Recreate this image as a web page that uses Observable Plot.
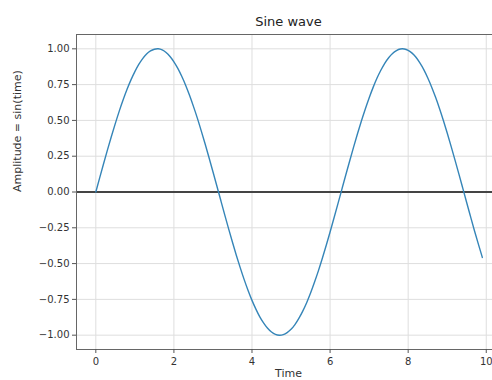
<!DOCTYPE html>
<html>
<head>
<meta charset="utf-8">
<script src="https://cdn.jsdelivr.net/npm/d3@7"></script>
<script src="https://cdn.jsdelivr.net/npm/@observablehq/plot@0.6"></script>
<style>
  html, body { margin: 0; padding: 0; background: #fff; }
  #chart svg { display: block; }
</style>
</head>
<body>
<div id="chart"></div>
<script>
// Data (time step 0.1, 0 .. 9.9)
const time = [
  0.0,0.1,0.2,0.3,0.4,0.5,0.6,0.7,0.8,0.9,
  1.0,1.1,1.2,1.3,1.4,1.5,1.6,1.7,1.8,1.9,
  2.0,2.1,2.2,2.3,2.4,2.5,2.6,2.7,2.8,2.9,
  3.0,3.1,3.2,3.3,3.4,3.5,3.6,3.7,3.8,3.9,
  4.0,4.1,4.2,4.3,4.4,4.5,4.6,4.7,4.8,4.9,
  5.0,5.1,5.2,5.3,5.4,5.5,5.6,5.7,5.8,5.9,
  6.0,6.1,6.2,6.3,6.4,6.5,6.6,6.7,6.8,6.9,
  7.0,7.1,7.2,7.3,7.4,7.5,7.6,7.7,7.8,7.9,
  8.0,8.1,8.2,8.3,8.4,8.5,8.6,8.7,8.8,8.9,
  9.0,9.1,9.2,9.3,9.4,9.5,9.6,9.7,9.8,9.9
];
const amplitude = [
  0.000,0.100,0.199,0.296,0.389,0.479,0.565,0.644,0.717,0.783,
  0.841,0.891,0.932,0.964,0.985,0.997,1.000,0.992,0.974,0.946,
  0.909,0.863,0.808,0.746,0.675,0.598,0.516,0.427,0.335,0.239,
  0.141,0.042,-0.058,-0.158,-0.256,-0.351,-0.443,-0.530,-0.612,-0.688,
  -0.757,-0.818,-0.872,-0.916,-0.952,-0.978,-0.994,-1.000,-0.996,-0.982,
  -0.959,-0.926,-0.883,-0.832,-0.773,-0.706,-0.631,-0.551,-0.465,-0.374,
  -0.279,-0.182,-0.083,0.017,0.117,0.215,0.312,0.405,0.494,0.578,
  0.657,0.729,0.794,0.850,0.899,0.938,0.968,0.988,0.999,0.999,
  0.989,0.970,0.941,0.902,0.855,0.798,0.734,0.663,0.585,0.501,
  0.412,0.319,0.223,0.125,0.025,-0.075,-0.174,-0.272,-0.366,-0.457
];
const xTicks = [0, 2, 4, 6, 8, 10];
const yTicks = [-1.00, -0.75, -0.50, -0.25, 0.00, 0.25, 0.50, 0.75, 1.00];
const titleText = "Sine wave";
const xLabel = "Time";
const yLabel = "Amplitude = sin(time)";

const data = time.map((t, i) => ({time: t, amp: amplitude[i]}));

const fmtY = d3.format(".2f");
const font = "DejaVu Sans, sans-serif";
const textColor = "#333";

const chart = Plot.plot({
  width: 492,
  height: 380,
  marginLeft: 76,
  marginRight: 0,
  marginTop: 34,
  marginBottom: 31,
  style: {fontFamily: font, fontSize: "10px", color: textColor, background: "#fff"},
  x: {domain: [-0.495, 10.16]},
  y: {domain: [-1.1, 1.1]},
  marks: [
    Plot.gridX(xTicks, {stroke: "#dedede", strokeOpacity: 1, strokeWidth: 1}),
    Plot.gridY(yTicks, {stroke: "#dedede", strokeOpacity: 1, strokeWidth: 1}),
    Plot.ruleY([0], {stroke: "#444", strokeWidth: 2}),
    Plot.line(data, {x: "time", y: "amp", stroke: "#3585b8", strokeWidth: 1.4, curve: "natural"}),
    Plot.ruleX([-0.495], {stroke: "#666", strokeWidth: 1}),
    Plot.ruleY([-1.1, 1.1], {stroke: "#666", strokeWidth: 1}),
    Plot.axisX(xTicks, {tickSize: 4, tickPadding: 4, tickFormat: d => String(d), label: null, stroke: "#555", fontSize: 10, fill: textColor}),
    Plot.axisY(yTicks, {tickSize: 4, tickPadding: 3, tickFormat: fmtY, label: null, stroke: "#555", fontSize: 10, fill: textColor}),
    Plot.text([titleText], {frameAnchor: "top", dx: 4, dy: -13, lineAnchor: "middle", fontSize: 13, fill: "#222"}),
    Plot.text([xLabel], {frameAnchor: "bottom", dx: 4, dy: 20, lineAnchor: "top", fontSize: 11, fill: textColor}),
    Plot.text([yLabel], {frameAnchor: "left", dx: -59, rotate: -90, lineAnchor: "middle", fontSize: 11, fill: textColor})
  ]
});
document.getElementById("chart").appendChild(chart);
</script>
</body>
</html>
